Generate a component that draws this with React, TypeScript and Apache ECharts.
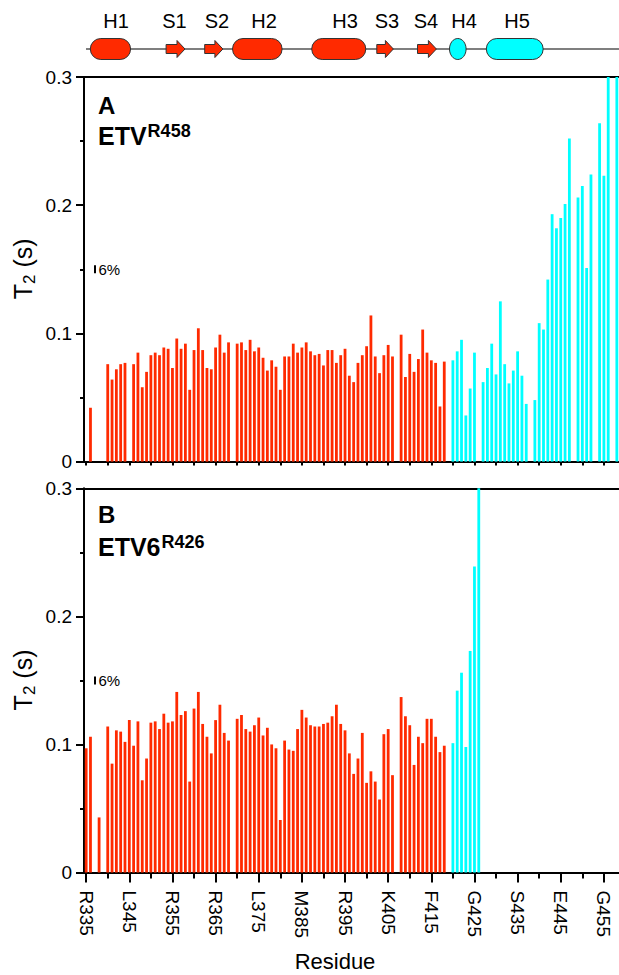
import React, { useEffect, useRef } from 'react';
import * as echarts from 'echarts';

// ---------------- DATA ----------------
const FIRST_RESIDUE = 335;
const LAST_RESIDUE = 458;
const CYAN_START = 420;

const xTickLabels = ['R335', 'L345', 'R355', 'R365', 'L375', 'M385', 'R395', 'K405', 'F415', 'G425', 'S435', 'E445', 'G455'];
const yTickValues = [0, 0.1, 0.2, 0.3];

// Panel A: ETV R458 — T2 (s), residues 335..419 (red)
const etvRedT2 = [
  null, 0.042, null, null, null, 0.076, 0.064, 0.072, 0.076, 0.077,
  null, 0.076, 0.085, 0.058, 0.070, 0.083, 0.085, 0.083, 0.089, 0.088,
  0.073, 0.096, 0.088, 0.092, 0.056, 0.087, 0.104, 0.087, 0.073, 0.072,
  0.089, 0.099, 0.085, 0.093, null, 0.092, 0.093, 0.087, 0.095, 0.086,
  0.089, 0.081, 0.071, 0.079, 0.074, 0.056, 0.082, 0.082, 0.092, 0.085,
  0.089, 0.093, 0.086, 0.083, 0.084, 0.075, 0.087, 0.087, 0.077, 0.083,
  0.088, 0.067, 0.062, 0.077, 0.083, 0.090, 0.114, 0.082, 0.069, 0.083,
  0.091, 0.082, null, 0.099, 0.066, 0.084, 0.070, 0.080, 0.103, 0.085,
  0.079, 0.077, 0.043, 0.078, null,
];
// Panel A: residues 420..458 (cyan)
const etvCyanT2 = [
  0.079, 0.086, 0.095, 0.036, 0.057, 0.085, null, 0.062, 0.073, 0.092,
  0.068, 0.125, 0.076, 0.061, 0.071, 0.086, 0.067, 0.045, null, 0.048,
  0.108, 0.103, 0.142, 0.193, 0.182, 0.190, 0.201, 0.252, null, 0.206,
  0.215, 0.151, 0.224, null, 0.264, 0.223, 0.300, null, 0.300,
];
// Panel B: ETV6 R426 — residues 335..419 (red)
const etv6RedT2 = [
  0.097, 0.106, null, 0.043, null, 0.114, 0.085, 0.111, 0.110, 0.102,
  0.119, 0.099, 0.118, 0.072, 0.089, 0.117, 0.118, 0.112, 0.124, 0.117,
  0.118, 0.141, 0.123, 0.126, 0.071, 0.128, 0.141, 0.116, 0.106, 0.093,
  0.119, 0.131, 0.109, 0.103, null, 0.120, 0.123, 0.112, 0.110, 0.115,
  0.121, 0.107, 0.113, 0.100, 0.097, 0.041, 0.103, 0.096, 0.095, 0.112,
  0.127, 0.121, 0.115, 0.114, 0.114, 0.116, 0.117, 0.122, 0.131, 0.116,
  0.111, 0.093, 0.077, 0.089, 0.109, 0.070, 0.079, 0.071, 0.057, 0.108,
  0.112, 0.076, null, 0.137, 0.122, 0.115, 0.084, 0.106, 0.101, 0.120,
  0.120, 0.106, 0.094, 0.099, null,
];
// Panel B: residues 420..426 (cyan)
const etv6CyanT2 = [0.101, 0.142, 0.156, 0.098, 0.173, 0.239, 0.300];

// Secondary structure elements
const structureNames = ['H1', 'S1', 'S2', 'H2', 'H3', 'S3', 'S4', 'H4', 'H5'];

// ---------------- STYLE / LAYOUT ----------------
const FONT = "'Liberation Sans', Arial, Helvetica, sans-serif";
const RED = '#ff2a00';
const CYAN = '#00ffff';
const OUTLINE = '#333333';
const GRID_LEFT = 84;
const GRID_WIDTH = 538.5;
const GRID_A = { top: 77, height: 384.6 };
const GRID_B = { top: 488.3, height: 384.2 };

// diagram layout (pixels): shape extents and label centres
const structureLayout: Record<string, { kind: string; x0: number; x1: number; color: string; label: number }> = {
  H1: { kind: 'helix', x0: 90.3, x1: 130.6, color: RED, label: 116 },
  S1: { kind: 'strand', x0: 166.1, x1: 185.0, color: RED, label: 174.5 },
  S2: { kind: 'strand', x0: 204.7, x1: 222.9, color: RED, label: 217 },
  H2: { kind: 'helix', x0: 232.5, x1: 282.1, color: RED, label: 264 },
  H3: { kind: 'helix', x0: 311.7, x1: 365.8, color: RED, label: 345 },
  S3: { kind: 'strand', x0: 376.8, x1: 393.4, color: RED, label: 387 },
  S4: { kind: 'strand', x0: 417.5, x1: 436.4, color: RED, label: 426 },
  H4: { kind: 'ellipse', x0: 449.5, x1: 466.1, color: CYAN, label: 464 },
  H5: { kind: 'helix', x0: 486.3, x1: 543.2, color: CYAN, label: 517 },
};

const categories: string[] = [];
for (let r = FIRST_RESIDUE; r <= LAST_RESIDUE; r++) categories.push(String(r));

const labelMap: Record<string, string> = {};
xTickLabels.forEach((l) => { labelMap[l.replace(/^[A-Z]/, '')] = l; });

function fullSeries(arr: (number | null)[], start: number) {
  return categories.map((c) => {
    const k = Number(c) - start;
    return k >= 0 && k < arr.length ? arr[k] : null;
  });
}

const every5 = (_i: number, v: string) => (Number(v) - FIRST_RESIDUE) % 5 === 0;
const every10 = (_i: number, v: string) => (Number(v) - FIRST_RESIDUE) % 10 === 0;

function measure(text: string, font: string) {
  const c = document.createElement('canvas');
  const ctx = c.getContext('2d');
  if (!ctx) return text.length * 15;
  ctx.font = font;
  return ctx.measureText(text).width;
}

function buildOption() {
  const axisLine = { show: true, onZero: false, lineStyle: { color: '#000', width: 2 } };
  const yMajor = (g: number) => ({
    gridIndex: g, type: 'value', position: 'left', min: 0, max: 0.3, interval: 0.1,
    axisLine, axisTick: { show: true, length: 8, lineStyle: { color: '#000', width: 2 } },
    axisLabel: {
      fontSize: 19, color: '#000', fontFamily: FONT, margin: 12,
      formatter: (v: number) => {
        const t = yTickValues.find((y) => Math.abs(y - v) < 1e-9);
        return t === undefined ? '' : t === 0 ? '0' : t.toFixed(1);
      },
    },
    splitLine: { show: false },
  });
  const yMinor = (g: number) => ({
    gridIndex: g, type: 'value', position: 'left', min: 0, max: 0.3, interval: 0.05,
    axisLine: { show: false }, axisTick: { show: true, length: 4, lineStyle: { color: '#000', width: 2 } },
    axisLabel: { show: false }, splitLine: { show: false },
  });
  const xBase = (g: number) => ({
    gridIndex: g, type: 'category', data: categories, boundaryGap: true,
  });

  const barCommon = { type: 'bar', barWidth: 2.8, barGap: '-100%', clip: true };

  const graphics: any[] = [];
  // structure line
  graphics.push({ type: 'line', shape: { x1: 86, y1: 49, x2: 619, y2: 49 }, style: { stroke: '#000', lineWidth: 1.2 }, z: 1 });
  structureNames.forEach((n) => {
    const s = structureLayout[n];
    const cy = 49;
    if (s.kind === 'helix') {
      graphics.push({ type: 'rect', shape: { x: s.x0, y: cy - 10.5, width: s.x1 - s.x0, height: 21, r: 10.5 }, style: { fill: s.color, stroke: OUTLINE, lineWidth: 1 }, z: 2 });
    } else if (s.kind === 'ellipse') {
      graphics.push({ type: 'ellipse', shape: { cx: (s.x0 + s.x1) / 2, cy, rx: (s.x1 - s.x0) / 2, ry: 10.5 }, style: { fill: s.color, stroke: OUTLINE, lineWidth: 1 }, z: 2 });
    } else {
      const xh = s.x1 - 8;
      graphics.push({
        type: 'polygon',
        shape: { points: [[s.x0, cy - 4.5], [xh, cy - 4.5], [xh, cy - 8.5], [s.x1, cy], [xh, cy + 8.5], [xh, cy + 4.5], [s.x0, cy + 4.5]] },
        style: { fill: s.color, stroke: OUTLINE, lineWidth: 1 }, z: 2,
      });
    }
    graphics.push({ type: 'text', x: s.label, y: 21, style: { text: n, fontSize: 20, fontFamily: FONT, fill: '#000', align: 'center', verticalAlign: 'middle' }, z: 2 });
  });

  // panel labels
  const panelLabel = (letter: string, name: string, sup: string, yL: number, yN: number, ySup: number) => {
    const w = measure(name, `bold 25px ${FONT}`);
    graphics.push({ type: 'text', x: 98, y: yL, style: { text: letter, fontSize: 24, fontWeight: 'bold', fontFamily: FONT, fill: '#000', verticalAlign: 'middle' } });
    graphics.push({ type: 'text', x: 98, y: yN, style: { text: name, fontSize: 25, fontWeight: 'bold', fontFamily: FONT, fill: '#000', verticalAlign: 'middle' } });
    graphics.push({ type: 'text', x: 98 + w + 1, y: ySup, style: { text: sup, fontSize: 18, fontWeight: 'bold', fontFamily: FONT, fill: '#000', verticalAlign: 'middle' } });
  };
  panelLabel('A', 'ETV', 'R458', 105, 136, 131);
  panelLabel('B', 'ETV6', 'R426', 514.5, 547, 541.5);

  // y axis titles (rotated)
  const yTitle = (cy: number) => ({
    type: 'group', x: 23, y: cy, rotation: Math.PI / 2,
    children: [
      { type: 'text', x: -30, y: 0, style: { text: 'T', fontSize: 25, fontFamily: FONT, fill: '#000', verticalAlign: 'middle' } },
      { type: 'text', x: -14.7, y: 6, style: { text: '2', fontSize: 17, fontFamily: FONT, fill: '#000', verticalAlign: 'middle' } },
      { type: 'text', x: -5.2, y: 0, style: { text: ' (s)', fontSize: 25, fontFamily: FONT, fill: '#000', verticalAlign: 'middle' } },
    ],
  });
  graphics.push(yTitle(GRID_A.top + GRID_A.height / 2));
  graphics.push(yTitle(GRID_B.top + GRID_B.height / 2));

  graphics.push({ type: 'text', x: 335, y: 961, style: { text: 'Residue', fontSize: 22, fontFamily: FONT, fill: '#000', align: 'center', verticalAlign: 'middle' } });

  return {
    animation: false,
    backgroundColor: '#fff',
    textStyle: { fontFamily: FONT },
    grid: [
      { left: GRID_LEFT, top: GRID_A.top, width: GRID_WIDTH, height: GRID_A.height },
      { left: GRID_LEFT, top: GRID_B.top, width: GRID_WIDTH, height: GRID_B.height },
    ],
    xAxis: [
      // 0: panel A bottom
      { ...xBase(0), position: 'bottom', axisLine, axisTick: { show: true, alignWithLabel: true, interval: every5, length: 4, lineStyle: { color: '#000', width: 2 } }, axisLabel: { show: false } },
      // 1: panel A top frame
      { ...xBase(0), position: 'top', axisLine, axisTick: { show: false }, axisLabel: { show: false } },
      // 2: panel B bottom minor ticks
      { ...xBase(1), position: 'bottom', axisLine, axisTick: { show: true, alignWithLabel: true, interval: every5, length: 6, lineStyle: { color: '#000', width: 2 } }, axisLabel: { show: false } },
      // 3: panel B major ticks + labels
      {
        ...xBase(1), position: 'bottom', axisLine: { show: false, onZero: false },
        axisTick: { show: true, alignWithLabel: true, interval: every10, length: 10, lineStyle: { color: '#000', width: 2 } },
        axisLabel: { show: true, interval: every10, rotate: -90, margin: 18, fontSize: 19, color: '#000', fontFamily: FONT, formatter: (v: string) => labelMap[v] || '' },
      },
      // 4: panel B top frame
      { ...xBase(1), position: 'top', axisLine, axisTick: { show: false }, axisLabel: { show: false } },
    ],
    yAxis: [yMajor(0), yMinor(0), yMajor(1), yMinor(1)],
    series: [
      { ...barCommon, name: 'ETV core', xAxisIndex: 0, yAxisIndex: 0, data: fullSeries(etvRedT2, FIRST_RESIDUE), itemStyle: { color: RED } },
      { ...barCommon, name: 'ETV C-term', xAxisIndex: 0, yAxisIndex: 0, data: fullSeries(etvCyanT2, CYAN_START), itemStyle: { color: CYAN } },
      { ...barCommon, name: 'ETV6 core', xAxisIndex: 2, yAxisIndex: 2, data: fullSeries(etv6RedT2, FIRST_RESIDUE), itemStyle: { color: RED } },
      { ...barCommon, name: 'ETV6 C-term', xAxisIndex: 2, yAxisIndex: 2, data: fullSeries(etv6CyanT2, CYAN_START), itemStyle: { color: CYAN } },
    ],
    graphic: graphics,
  };
}

export default function App() {
  const ref = useRef<HTMLDivElement>(null);
  useEffect(() => {
    document.body.style.margin = '0';
    const chart = echarts.init(ref.current!, undefined, { renderer: 'svg' });
    const option: any = buildOption();
    chart.setOption(option);
    // 6% error-scale markers at T2 = 0.15 in each panel
    const extra: any[] = [];
    [0, 2].forEach((yi) => {
      const py = chart.convertToPixel({ yAxisIndex: yi }, 0.15) as number;
      extra.push({ type: 'rect', shape: { x: 94, y: py - 4, width: 2, height: 8 }, style: { fill: '#000' } });
      extra.push({ type: 'text', x: 98.5, y: py + 0.5, style: { text: '6%', fontSize: 15, fontFamily: FONT, fill: '#000', verticalAlign: 'middle' } });
    });
    chart.setOption({ graphic: [...option.graphic, ...extra] });
    return () => chart.dispose();
  }, []);
  return <div ref={ref} style={{ width: 619, height: 975 }} />;
}
